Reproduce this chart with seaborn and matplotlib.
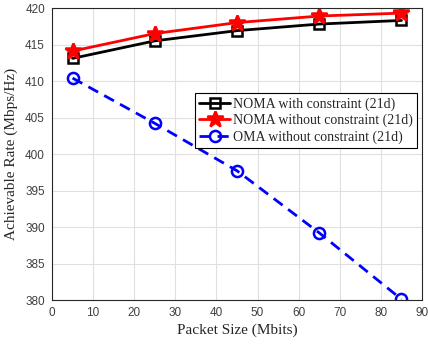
import matplotlib
matplotlib.use("Agg")
import matplotlib.pyplot as plt
import seaborn as sns
import pandas as pd

packet_size = [5, 25, 45, 65, 85]
noma_constraint = [413.1, 415.5, 416.9, 417.8, 418.3]
noma_no_constraint = [414.1, 416.5, 418.0, 418.9, 419.3]
oma_no_constraint = [410.4, 404.2, 397.7, 389.2, 380.1]

labels = ["NOMA with constraint (21d)", "NOMA without constraint (21d)", "OMA without constraint (21d)"]

sns.set_style("whitegrid")
plt.rcParams['font.family'] = ['Liberation Sans', 'DejaVu Sans']

fig = plt.figure(figsize=(4.28, 3.45), dpi=100)
ax = fig.add_axes([0.1215, 0.1304, 0.8645, 0.8464])

series = [
    (noma_constraint, labels[0], "black", "s", "-", 7, "none"),
    (noma_no_constraint, labels[1], "red", "*", "-", 12, "red"),
    (oma_no_constraint, labels[2], "blue", "o", (0, (4, 2.5)), 8, "none"),
]
for vals, lab, col, mk, ls, ms, mfc in series:
    df = pd.DataFrame({"x": packet_size, "y": vals})
    sns.lineplot(data=df, x="x", y="y", ax=ax, color=col, marker=mk, linestyle=ls,
                 linewidth=2, markersize=ms, markerfacecolor=mfc, markeredgecolor=col,
                 markeredgewidth=1.8, label=lab)

ax.set_xlim(0, 90)
ax.set_ylim(380, 420)
ax.set_xticks(range(0, 91, 10))
ax.set_yticks(range(380, 421, 5))
ax.tick_params(axis='both', labelsize=8.5, labelcolor='#404040', color='#262626',
               length=3, direction='in')
ax.tick_params(axis='x', pad=5)
ax.tick_params(axis='y', pad=5)
ax.grid(True, color='#e0e0e0', linewidth=0.8)
for s in ax.spines.values():
    s.set_color('#262626')
    s.set_linewidth(0.8)
    s.set_visible(True)
ax.set_facecolor('white')

serif = ['Liberation Serif', 'DejaVu Serif']
ax.set_xlabel("Packet Size (Mbits)", fontsize=11, family=serif, color='#262626', labelpad=3)
ax.set_ylabel("Achievable Rate (Mbps/Hz)", fontsize=11, family=serif, color='#262626', labelpad=5)

leg = ax.legend(loc='upper right', bbox_to_anchor=(0.986, 0.709), prop={'family': serif, 'size': 10},
                frameon=True, fancybox=False, edgecolor='black', framealpha=1,
                handlelength=2.2, handletextpad=0.2, borderpad=0.3, labelspacing=0.22, borderaxespad=0)
leg.get_frame().set_linewidth(0.8)

fig.savefig("out.png", dpi=100)
